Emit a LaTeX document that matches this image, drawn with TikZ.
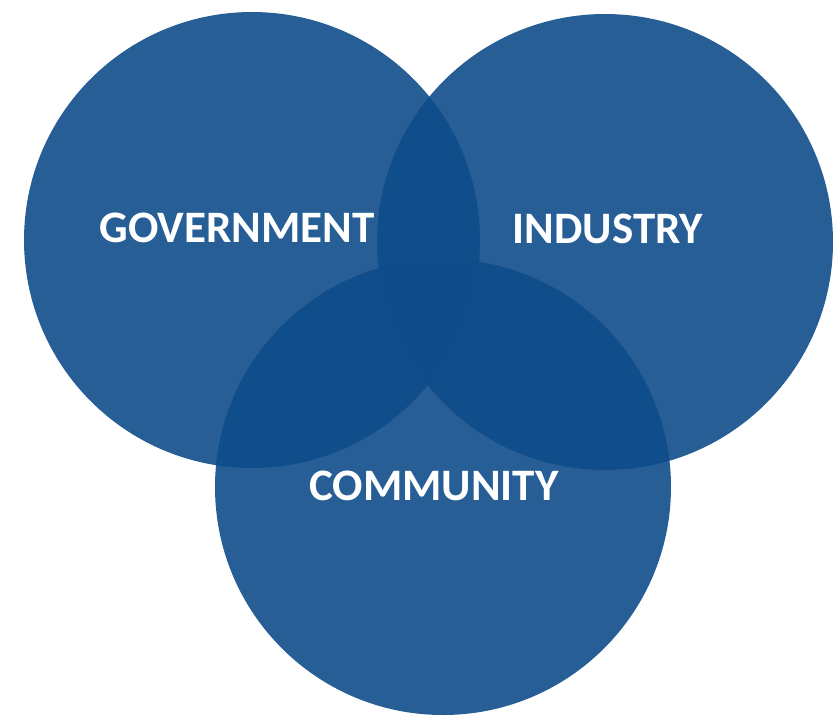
\documentclass[tikz,border=0pt]{standalone}
\usepackage{fontspec}
\setmainfont{Carlito}
\definecolor{venn}{RGB}{14,76,138}
\begin{document}
\begin{tikzpicture}[x=1pt,y=-1pt,
  setcircle/.style={circle,fill=venn,fill opacity=0.9,minimum size=456pt,inner sep=0pt},
  setlabel/.style={text=white,font=\bfseries\fontsize{45}{50}\selectfont,inner sep=0pt,anchor=center}]
\useasboundingbox (0,0) rectangle (836,716);
\node[setcircle] (gov) at (252,240) {};
\node[setcircle] (ind) at (605,242) {};
\node[setcircle] (com) at (443,487) {};
\node[setlabel] (govt) at (237,228) {GOVERNMENT};
\node[setlabel] (indt) at (608,229) {INDUSTRY};
\node[setlabel] (comt) at (434,486) {COMMUNITY};
\end{tikzpicture}
\end{document}
